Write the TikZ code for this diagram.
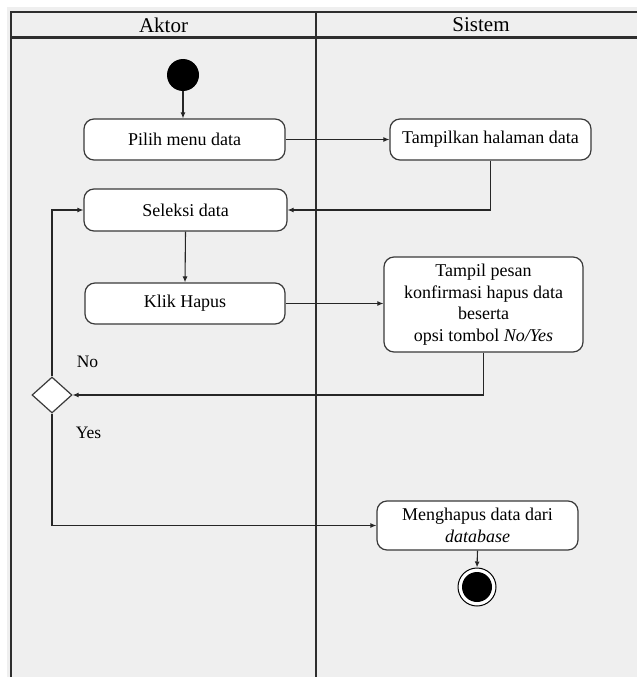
\documentclass[tikz,border=0pt]{standalone}
\usepackage{fontspec}
\setmainfont{Liberation Serif}
\usetikzlibrary{arrows.meta,shapes.geometric}

\definecolor{paper}{HTML}{EFEFEF}
\definecolor{frameline}{HTML}{2E2E2E}
\definecolor{boxline}{HTML}{3A3A3A}

\tikzset{
  lanes/.style={draw=frameline, line width=2.4pt},
  action/.style={draw=boxline, fill=white, line width=1.2pt, rounded corners=10pt,
    rectangle, align=center, font=\fontsize{18}{21.5}\selectfont, inner sep=2pt},
  flow/.style={draw=black!85, line width=1.1pt, -{Latex[length=6pt,width=5pt]}},
  lanetitle/.style={font=\fontsize{21}{22}\selectfont},
  guard/.style={font=\fontsize{17.5}{18}\selectfont},
  decision/.style={diamond, draw=boxline, fill=white, line width=1.2pt,
    minimum width=40pt, minimum height=36pt, inner sep=0pt, aspect=1.1},
  initial/.style={circle, fill=black, minimum size=32pt, inner sep=0pt},
  final/.style={circle, draw=black, line width=1pt, fill=white, minimum size=38pt, inner sep=0pt}
}

\begin{document}
\begin{tikzpicture}[x=1pt, y=-1pt]
  \useasboundingbox (0,0) rectangle (637,677);
  \fill[white] (0,0) rectangle (637,677);
  \fill[paper] (7,7) rectangle (637,677);

  % swimlane frame
  \draw[lanes] (637,12) -- (11,12) -- (11,677);
  \draw[lanes] (11,37.5) -- (637,37.5);
  \draw[lanes] (316,12) -- (316,677);
  \node[lanetitle] (laneA) at (163.5,25) {Aktor};
  \node[lanetitle] (laneS) at (481,25) {Sistem};

  % states
  \node[initial] (start) at (183,75) {};
  \node[action, minimum width=201pt, minimum height=41pt] (pilih) at (184.5,139.5) {Pilih menu data};
  \node[action, minimum width=203pt, minimum height=42pt] (seleksi) at (185.5,210) {Seleksi data};
  \node[action, minimum width=200pt, minimum height=41pt] (klik) at (185,303.5) {Klik Hapus};
  \node[action, minimum width=201pt, minimum height=41pt] (tampil) at (490.5,139.5) {Tampilkan halaman data};
  \node[action, minimum width=199pt, minimum height=95pt] (pesan) at (483.5,304.5)
    {Tampil pesan\\konfirmasi hapus data\\beserta\\opsi tombol \textit{No/Yes}};
  \node[decision] (dec) at (52,395) {};
  \node[action, minimum width=201pt, minimum height=49pt] (hapus) at (477.5,525.5)
    {Menghapus data dari\\\textit{database}};
  \node[final] (end) at (477,587) {};
  \fill[black] (end.center) circle (15pt);

  % guards
  \node[guard] (lblNo) at (87.5,362) {No};
  \node[guard] (lblYes) at (88.5,433) {Yes};

  % transitions
  \draw[flow] (start) -- (start |- pilih.north);
  \draw[flow] (pilih.east) -- (tampil.west);
  \draw[flow] (tampil.south) |- (seleksi.east);
  \draw[flow] (seleksi.south) -- (klik.north);
  \draw[flow] (klik.east) -- (klik.east -| pesan.west);
  \draw[flow] (pesan.south) |- (dec.east);
  \draw[flow] (dec.north) |- (seleksi.west);
  \draw[flow] (dec.south) |- (hapus.west);
  \draw[flow] (hapus.south) -- (end.north);
\end{tikzpicture}
\end{document}
